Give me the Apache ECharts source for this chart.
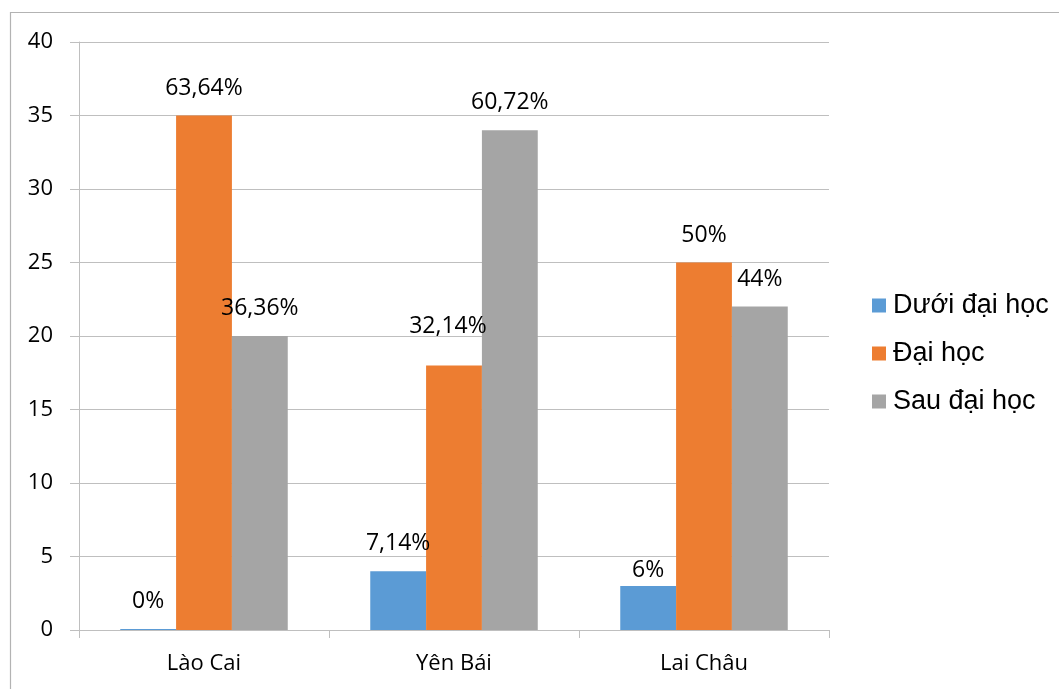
<!DOCTYPE html>
<html>
<head>
<meta charset="utf-8">
<script src="https://cdn.jsdelivr.net/npm/echarts@6/dist/echarts.min.js"></script>
<style>html,body{margin:0;padding:0;background:#fff;}#c{width:1059px;height:689px;}</style>
</head>
<body>
<div id="c"></div>
<script>
const categories = ['Lào Cai', 'Yên Bái', 'Lai Châu'];
const seriesNames = ['Dưới đại học', 'Đại học', 'Sau đại học'];
const duoiDaiHoc = [0, 4, 3];
const daiHoc = [35, 18, 25];
const sauDaiHoc = [20, 34, 22];
const duoiLabels = ['0%', '7,14%', '6%'];
const daiLabels = ['63,64%', '32,14%', '50%'];
const sauLabels = ['36,36%', '60,72%', '44%'];
const yTicks = [0, 5, 10, 15, 20, 25, 30, 35, 40];

const colors = ['#5B9BD5', '#ED7D31', '#A5A5A5'];
const labelFont = '"Open Sans", "Noto Sans", sans-serif';
// manual label nudges seen in the reference (style only)
const labelOffsets = {
  '1-1': [-6, -11],
  '0-2': [0, 12]
};

function buildSeries(idx, values, labels) {
  return {
    name: seriesNames[idx],
    type: 'bar',
    barGap: '0%',
    barCategoryGap: '33%',
    barMinHeight: idx === 0 ? 1 : 0,
    itemStyle: { color: colors[idx] },
    data: values.map((v, i) => {
      const off = labelOffsets[idx + '-' + i];
      const item = { value: v };
      item.label = { formatter: labels[i] };
      if (off) item.label.offset = off;
      return item;
    }),
    label: {
      show: true,
      position: 'top',
      distance: 16,
      color: '#000',
      fontFamily: labelFont,
      fontSize: 23
    }
  };
}

const chart = echarts.init(document.getElementById('c'), null, { renderer: 'canvas' });
chart.setOption({
  backgroundColor: '#fff',
  animation: false,
  graphic: [{
    type: 'rect',
    shape: { x: 10.5, y: 12.5, width: 1100, height: 720 },
    style: { fill: 'none', stroke: '#B3B3B3', lineWidth: 1.2 },
    silent: true,
    z: -1
  }],
  grid: { left: 79, right: 230, top: 42, bottom: 59 },
  legend: {
    orient: 'vertical',
    left: 872,
    top: 292,
    padding: 0,
    itemWidth: 14,
    itemHeight: 14,
    itemGap: 21,
    icon: 'rect',
    data: seriesNames,
    textStyle: {
      fontFamily: '"Liberation Sans", Arial, sans-serif',
      fontSize: 27,
      lineHeight: 27,
      color: '#000',
      padding: [0, 0, 0, 2]
    }
  },
  xAxis: {
    type: 'category',
    data: categories,
    axisLine: { show: true, lineStyle: { color: '#BFBFBF', width: 1 } },
    axisTick: { show: true, length: 8, alignWithLabel: false, lineStyle: { color: '#BFBFBF' } },
    axisLabel: {
      margin: 23,
      color: '#000',
      fontFamily: labelFont,
      fontSize: 22
    }
  },
  yAxis: {
    type: 'value',
    min: yTicks[0],
    max: yTicks[yTicks.length - 1],
    interval: 5,
    axisLine: { show: true, lineStyle: { color: '#BFBFBF', width: 1 } },
    axisTick: { show: true, length: 9, lineStyle: { color: '#BFBFBF' } },
    splitLine: { show: true, lineStyle: { color: '#BFBFBF', width: 1 } },
    axisLabel: {
      margin: 26,
      color: '#000',
      fontFamily: labelFont,
      fontSize: 22
    }
  },
  series: [
    buildSeries(0, duoiDaiHoc, duoiLabels),
    buildSeries(1, daiHoc, daiLabels),
    buildSeries(2, sauDaiHoc, sauLabels)
  ]
});
</script>
</body>
</html>
